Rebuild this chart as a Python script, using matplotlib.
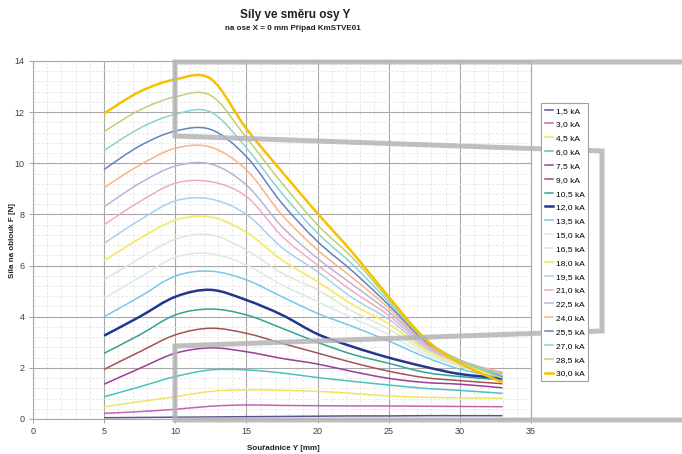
import numpy as np
import matplotlib
matplotlib.use("Agg")
import matplotlib.pyplot as plt
from matplotlib.path import Path
from matplotlib.patches import PathPatch
from matplotlib.lines import Line2D
from matplotlib.ticker import MultipleLocator

plt.rcParams['font.family'] = ['Liberation Sans Narrow', 'Liberation Sans', 'DejaVu Sans']

# positions along Y [mm]
y_pos = [5, 7.5, 10, 12.5, 15, 17.5, 20, 22.5, 25, 27.5, 30, 33]

# force [N] for each current
f_1_5 = [0.05, 0.06, 0.07, 0.08, 0.09, 0.10, 0.11, 0.12, 0.12, 0.13, 0.13, 0.13]
f_3_0 = [0.22, 0.29, 0.38, 0.50, 0.55, 0.53, 0.52, 0.51, 0.51, 0.50, 0.49, 0.48]
f_4_5 = [0.48, 0.68, 0.87, 1.08, 1.14, 1.12, 1.08, 1.00, 0.90, 0.85, 0.83, 0.81]
f_6_0 = [0.87, 1.26, 1.66, 1.92, 1.92, 1.80, 1.62, 1.47, 1.33, 1.20, 1.12, 1.00]
f_7_5 = [1.36, 1.98, 2.57, 2.78, 2.63, 2.37, 2.15, 1.85, 1.59, 1.43, 1.36, 1.22]
f_9_0 = [1.94, 2.63, 3.29, 3.55, 3.35, 2.96, 2.58, 2.20, 1.87, 1.62, 1.50, 1.38]
f_10_5 = [2.57, 3.29, 4.07, 4.30, 4.07, 3.55, 3.00, 2.52, 2.18, 1.83, 1.66, 1.53]
f_12_0 = [3.26, 4.00, 4.78, 5.05, 4.65, 4.07, 3.32, 2.82, 2.40, 2.05, 1.76, 1.59]
f_13_5 = [4.00, 4.78, 5.59, 5.78, 5.44, 4.78, 4.13, 3.61, 3.05, 2.44, 1.95, 1.62]
f_15_0 = [4.72, 5.54, 6.32, 6.47, 6.02, 5.24, 4.59, 3.94, 3.30, 2.55, 2.05, 1.65]
f_16_5 = [5.44, 6.28, 7.03, 7.20, 6.61, 5.70, 5.05, 4.20, 3.52, 2.65, 2.10, 1.70]
f_18_0 = [6.19, 7.06, 7.78, 7.90, 7.30, 6.22, 5.37, 4.46, 3.72, 2.74, 2.15, 1.68]
f_19_5 = [6.87, 7.78, 8.53, 8.60, 8.00, 6.70, 5.76, 4.72, 3.90, 2.82, 2.20, 1.70]
f_21_0 = [7.60, 8.50, 9.22, 9.28, 8.70, 7.15, 6.02, 4.98, 4.05, 2.90, 2.24, 1.83]
f_22_5 = [8.30, 9.22, 9.89, 9.97, 9.15, 7.52, 6.28, 5.24, 4.20, 2.97, 2.27, 1.75]
f_24_0 = [9.05, 9.93, 10.59, 10.63, 9.74, 7.98, 6.61, 5.50, 4.34, 3.03, 2.30, 1.80]
f_25_5 = [9.76, 10.68, 11.26, 11.32, 10.26, 8.43, 6.94, 5.76, 4.46, 3.08, 2.30, 1.65]
f_27_0 = [10.50, 11.37, 11.92, 12.00, 10.60, 8.82, 7.27, 6.02, 4.58, 3.12, 2.30, 1.70]
f_28_5 = [11.24, 12.08, 12.60, 12.65, 11.00, 9.22, 7.59, 6.28, 4.68, 3.15, 2.28, 1.60]
f_30_0 = [11.95, 12.80, 13.28, 13.30, 11.35, 9.67, 8.04, 6.48, 4.78, 3.17, 2.18, 1.43]

labels = ["1,5 kA", "3,0 kA", "4,5 kA", "6,0 kA", "7,5 kA", "9,0 kA", "10,5 kA",
          "12,0 kA", "13,5 kA", "15,0 kA", "16,5 kA", "18,0 kA", "19,5 kA",
          "21,0 kA", "22,5 kA", "24,0 kA", "25,5 kA", "27,0 kA", "28,5 kA", "30,0 kA"]
series = [f_1_5, f_3_0, f_4_5, f_6_0, f_7_5, f_9_0, f_10_5, f_12_0, f_13_5, f_15_0,
          f_16_5, f_18_0, f_19_5, f_21_0, f_22_5, f_24_0, f_25_5, f_27_0, f_28_5, f_30_0]
colors = ["#55558f", "#c462b4", "#eee65a", "#48c4bc", "#9a3c98", "#a25454", "#34a293",
          "#22368f", "#76c8e8", "#d6ece8", "#e2e6d2", "#f4ec72", "#aad0ec", "#f0aac8",
          "#bab2d8", "#f8b484", "#6282c2", "#8cd2d2", "#bcd274", "#f8c000"]
widths = [1.1] * 20
widths[7] = 1.8
widths[19] = 1.8
widths[11] = 1.4


def smooth_path(xs, ys):
    # excel-like smoothed line (catmull-rom as cubic bezier)
    pts = np.column_stack([xs, ys]).astype(float)
    n = len(pts)
    verts = [pts[0]]
    codes = [Path.MOVETO]
    for i in range(n - 1):
        p0 = pts[max(i - 1, 0)]
        p1 = pts[i]
        p2 = pts[i + 1]
        p3 = pts[min(i + 2, n - 1)]
        verts += [p1 + (p2 - p0) / 6, p2 - (p3 - p1) / 6, p2]
        codes += [Path.CURVE4] * 3
    return Path(verts, codes)


W, H = 682, 454
fig = plt.figure(figsize=(W / 100, H / 100), dpi=100)
ax = fig.add_axes([33 / W, 1 - 419 / H, 498 / W, 358 / H])

ax.set_xlim(0, 35)
ax.set_ylim(0, 14)
ax.xaxis.set_major_locator(MultipleLocator(5))
ax.yaxis.set_major_locator(MultipleLocator(2))
ax.xaxis.set_minor_locator(MultipleLocator(1))
ax.yaxis.set_minor_locator(MultipleLocator(0.4))
ax.grid(which='major', color='#a8a8a8', lw=0.8)
ax.grid(which='minor', color='#e4e4e4', lw=0.6, ls=(0, (3, 2)))
ax.set_axisbelow(True)
for s in ax.spines.values():
    s.set_color('#a8a8a8')
    s.set_linewidth(0.8)
ax.tick_params(which='major', length=3, width=0.6, color='#909090', labelsize=6.5,
               labelcolor='#404040', pad=3)
ax.tick_params(which='minor', length=0)

handles = []
for vals, lab, c, lw in zip(series, labels, colors, widths):
    ax.add_patch(PathPatch(smooth_path(y_pos, vals), fill=False, edgecolor=c, lw=lw,
                           transform=ax.transData, zorder=3))
    handles.append(Line2D([], [], color=c, lw=lw, label=lab))

fig.text(295 / W, 1 - 15 / H, "Síly ve směru osy Y", ha='center', va='center',
         fontsize=8.5, fontweight='bold', color='#202020')
fig.text(293 / W, 1 - 29 / H, "na ose X = 0 mm Případ KmSTVE01", ha='center',
         va='center', fontsize=5.8, fontweight='bold', color='#202020')
fig.text(12 / W, 1 - 240 / H, "Síla na oblouk F [N]", rotation=90, ha='center',
         va='center', fontsize=5.8, fontweight='bold', color='#202020')
fig.text(283 / W, 1 - 449 / H, "Souřadnice Y [mm]", ha='center', va='center',
         fontsize=5.8, fontweight='bold', color='#202020')

# grey zoom outline drawn over the picture (pixel positions)
ox = [682, 175, 175, 602, 602, 175, 175, 682]
oy = [62, 62, 136, 151, 331, 346, 420, 420]
fig.add_artist(Line2D([x / W for x in ox], [1 - y / H for y in oy],
                      transform=fig.transFigure, color='#b4b4b4', lw=3.6,
                      alpha=0.85, solid_joinstyle='miter', zorder=10))

leg = fig.legend(handles=handles, loc='upper left', bbox_to_anchor=(541 / W, 1 - 103 / H),
                 fontsize=6, frameon=True, fancybox=False, borderpad=0.45,
                 labelspacing=0.72, handlelength=1.0, handletextpad=0.3,
                 borderaxespad=0, framealpha=1)
leg.get_frame().set_edgecolor('#a0a0a0')
leg.get_frame().set_linewidth(0.8)
leg.set_zorder(20)

fig.savefig("out.png", dpi=100)
